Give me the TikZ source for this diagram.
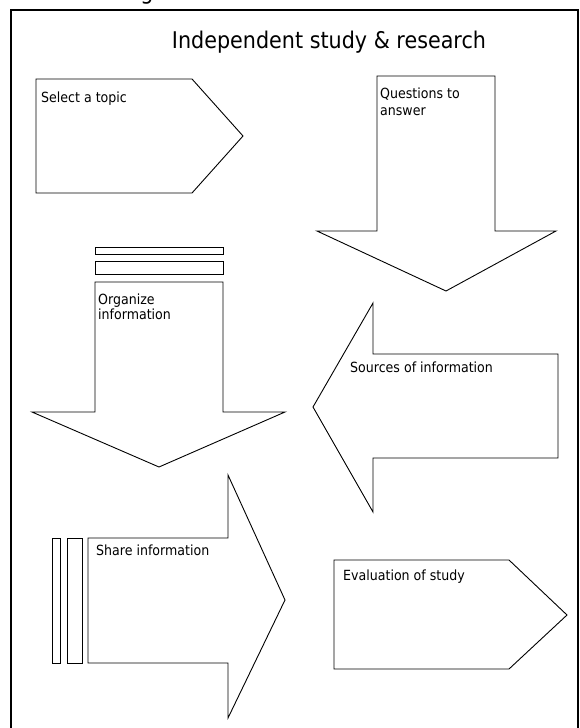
\documentclass[tikz,border=0pt]{standalone}
\usepackage{fontspec}
\setmainfont[FakeStretch=0.9]{DejaVu Sans}
\begin{document}
\begin{tikzpicture}[x=1pt,y=-1pt,
  outl/.style={draw=black,line width=0.9pt,line join=miter,fill=white},
  lbl/.style={anchor=base west,inner sep=0pt,font=\fontsize{14}{17}\selectfont},
  ttl/.style={anchor=base,inner sep=0pt,font=\fontsize{23}{27}\selectfont}]
\useasboundingbox (0,0) rectangle (579,728);
% frame
\draw[line width=2pt] (11,740) -- (11,10) -- (578,10) -- (578,740);
\node[ttl] (gfrag) at (147,-1) {g};
\node[ttl] (title) at (329,48) {Independent study \& research};
% Select a topic
\draw[outl] (36,79) -- (192,79) -- (243,136) -- (192,193) -- (36,193) -- cycle;
\node[lbl] (select) at (41,102) {Select a topic};
% Questions to answer
\draw[outl] (377,76) -- (495,76) -- (495,231) -- (556,231) -- (446,291) -- (317,231) -- (377,231) -- cycle;
\node[lbl] (q1) at (380,98) {Questions to};
\node[lbl] (q2) at (380,115) {answer};
% Organize information
\draw[outl] (95,247) rectangle (223,254);
\draw[outl] (95,261) rectangle (223,274);
\draw[outl] (95,282) -- (223,282) -- (223,412) -- (285,412) -- (159,467) -- (32,412) -- (95,412) -- cycle;
\node[lbl] (o1) at (98,304) {Organize};
\node[lbl] (o2) at (98,319) {information};
% Sources of information
\draw[outl] (558,354) -- (373,354) -- (373,303) -- (313,407) -- (373,512) -- (373,458) -- (558,458) -- cycle;
\node[lbl] (src) at (350,372) {Sources of information};
% Share information
\draw[outl] (52,538) rectangle (60,663);
\draw[outl] (67,538) rectangle (82,663);
\draw[outl] (88,538) -- (228,538) -- (228,475) -- (285,600) -- (228,718) -- (228,663) -- (88,663) -- cycle;
\node[lbl] (share) at (96,555) {Share information};
% Evaluation of study
\draw[outl] (334,560) -- (509,560) -- (567,615) -- (509,669) -- (334,669) -- cycle;
\node[lbl] (eval) at (343,580) {Evaluation of study};
\end{tikzpicture}
\end{document}
